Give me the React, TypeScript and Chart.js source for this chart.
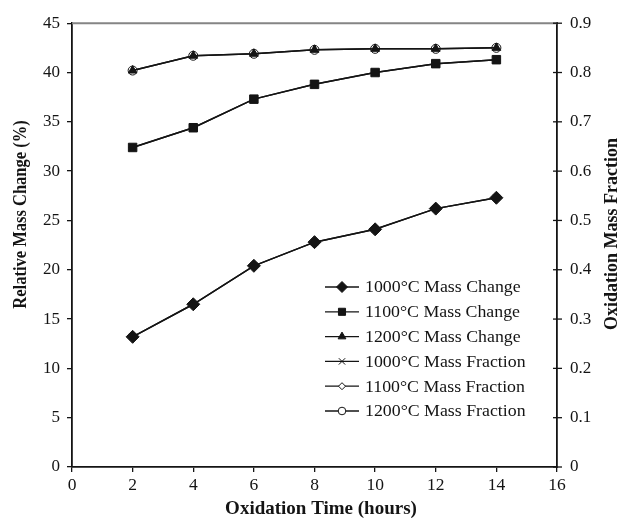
import React, { useEffect, useRef } from "react";
import { Chart, registerables } from "chart.js";
import { drawPoint } from "chart.js/helpers";

Chart.register(...registerables);

const HOURS = [2, 4, 6, 8, 10, 12, 14];
const CHANGE_1000 = [13.2, 16.5, 20.4, 22.8, 24.1, 26.2, 27.3];
const CHANGE_1100 = [32.4, 34.4, 37.3, 38.8, 40.0, 40.9, 41.3];
const CHANGE_1200 = [40.2, 41.7, 41.9, 42.3, 42.4, 42.4, 42.5];
const FRACTION_1000 = [0.264, 0.33, 0.408, 0.456, 0.482, 0.524, 0.546];
const FRACTION_1100 = [0.648, 0.688, 0.746, 0.776, 0.8, 0.818, 0.826];
const FRACTION_1200 = [0.804, 0.834, 0.838, 0.846, 0.848, 0.848, 0.85];
const LABELS = [
  "1000°C Mass Change",
  "1100°C Mass Change",
  "1200°C Mass Change",
  "1000°C Mass Fraction",
  "1100°C Mass Fraction",
  "1200°C Mass Fraction",
];
const RIGHT_TICKS = [0, 0.1, 0.2, 0.3, 0.4, 0.5, 0.6, 0.7, 0.8, 0.9];
const X_TITLE = "Oxidation Time (hours)";
const LEFT_TITLE = "Relative Mass Change (%)";
const RIGHT_TITLE = "Oxidation Mass Fraction";

const INK = "#141414";
const FONT = "'Liberation Serif', 'Times New Roman', serif";

const pts = (ys: number[]) => HOURS.map((x, i) => ({ x, y: ys[i] }));

type Marker = { style: string; r: number; lr: number; fill: string; bw: number };
const MARKERS: Marker[] = [
  { style: "rectRot", r: 6.5, lr: 5.5, fill: INK, bw: 1 },
  { style: "rect", r: 6, lr: 5, fill: INK, bw: 1 },
  { style: "triangle", r: 5, lr: 4.5, fill: INK, bw: 1 },
  { style: "crossRot", r: 4.5, lr: 4.5, fill: INK, bw: 1 },
  { style: "rectRot", r: 3.5, lr: 3.5, fill: "#fff", bw: 1 },
  { style: "circle", r: 4.5, lr: 3.8, fill: "#fff", bw: 1 },
];

const overlayPlugin = {
  id: "overlay",
  afterDraw(chart: any) {
    const ctx = chart.ctx;
    const { chartArea } = chart;
    ctx.save();
    // top border of the plot area
    ctx.strokeStyle = "#858585";
    ctx.lineWidth = 2;
    ctx.beginPath();
    ctx.moveTo(chartArea.left, chartArea.top);
    ctx.lineTo(chartArea.right, chartArea.top);
    ctx.stroke();

    // right axis ticks crossing the axis
    const y1 = chart.scales.y1;
    ctx.strokeStyle = INK;
    ctx.lineWidth = 1.3;
    y1.ticks.forEach((t: any) => {
      const py = y1.getPixelForValue(t.value);
      ctx.beginPath();
      ctx.moveTo(chartArea.right - 4, py);
      ctx.lineTo(chartArea.right + 5, py);
      ctx.stroke();
    });

    // axis titles
    ctx.fillStyle = INK;
    ctx.textAlign = "center";
    ctx.textBaseline = "middle";
    ctx.font = `bold 19px ${FONT}`;
    ctx.fillText(X_TITLE, 321, 509);

    ctx.save();
    ctx.translate(21, 214.5);
    ctx.rotate(-Math.PI / 2);
    ctx.scale(1, 1.12);
    ctx.font = `bold 16.5px ${FONT}`;
    ctx.fillText(LEFT_TITLE, 0, 0);
    ctx.restore();

    ctx.save();
    ctx.translate(612.5, 234);
    ctx.rotate(-Math.PI / 2);
    ctx.font = `bold 18px ${FONT}`;
    ctx.fillText(RIGHT_TITLE, 0, 0);
    ctx.restore();

    // legend
    const x0 = 325;
    const x1 = 359;
    const top = 287;
    const step = 24.8;
    ctx.textAlign = "left";
    ctx.textBaseline = "middle";
    LABELS.forEach((label, i) => {
      const y = top + i * step;
      ctx.strokeStyle = INK;
      ctx.lineWidth = 1.3;
      ctx.beginPath();
      ctx.moveTo(x0, y);
      ctx.lineTo(x1, y);
      ctx.stroke();
      const m = MARKERS[i];
      ctx.fillStyle = m.fill;
      ctx.strokeStyle = INK;
      ctx.lineWidth = m.bw;
      drawPoint(ctx, { pointStyle: m.style as any, rotation: 0, radius: m.lr, borderWidth: m.bw }, (x0 + x1) / 2, y);
      ctx.save();
      ctx.translate(365, y + 1);
      ctx.scale(1.08, 1);
      ctx.fillStyle = INK;
      ctx.font = `16.5px ${FONT}`;
      ctx.fillText(label, 0, 0);
      ctx.restore();
    });
    ctx.restore();
  },
};

export default function App() {
  const ref = useRef<HTMLCanvasElement | null>(null);
  useEffect(() => {
    if (!ref.current) return;
    const series = [CHANGE_1000, CHANGE_1100, CHANGE_1200, FRACTION_1000, FRACTION_1100, FRACTION_1200];
    const chart = new Chart(ref.current, {
      type: "line",
      data: {
        datasets: series.map((s, i) => ({
          label: LABELS[i],
          data: pts(s),
          yAxisID: i < 3 ? "y" : "y1",
          borderColor: INK,
          borderWidth: 1.5,
          pointStyle: MARKERS[i].style as any,
          pointRadius: MARKERS[i].r,
          pointBackgroundColor: MARKERS[i].fill,
          pointBorderColor: INK,
          pointBorderWidth: MARKERS[i].bw,
          tension: 0,
          fill: false,
        })),
      },
      options: {
        animation: false,
        responsive: false,
        maintainAspectRatio: false,
        layout: { padding: { top: 20, left: 0, right: 0, bottom: 0 } },
        plugins: { legend: { display: false }, tooltip: { enabled: false } },
        scales: {
          x: {
            type: "linear",
            min: 0,
            max: 16,
            ticks: { stepSize: 2, color: INK, font: { family: FONT, size: 17.5 }, padding: 3, maxRotation: 0 },
            grid: { drawOnChartArea: false, tickLength: 5, color: INK, lineWidth: 1.3 },
            border: { color: INK, width: 1.8 },
            afterFit: (s: any) => {
              s.height = 54;
            },
          },
          y: {
            position: "left",
            min: 0,
            max: 45,
            ticks: { stepSize: 5, color: INK, font: { family: FONT, size: 17 }, padding: 7 },
            grid: { drawOnChartArea: false, tickLength: 5, color: INK, lineWidth: 1.3 },
            border: { color: INK, width: 1.8 },
            afterFit: (s: any) => {
              s.width = 72;
            },
          },
          y1: {
            position: "right",
            min: 0,
            max: 0.9,
            afterBuildTicks: (s: any) => {
              s.ticks = RIGHT_TICKS.map((v) => ({ value: v }));
            },
            ticks: {
              color: INK,
              font: { family: FONT, size: 17 },
              padding: 13,
              callback: (v: any) => (Number(v) === 0 ? "0" : Number(v).toFixed(1)),
            },
            grid: { drawOnChartArea: false, drawTicks: false },
            border: { color: INK, width: 1.8 },
            afterFit: (s: any) => {
              s.width = 65;
            },
          },
        },
      },
      plugins: [overlayPlugin],
    });
    return () => chart.destroy();
  }, []);
  return (
    <div style={{ position: "fixed", left: 0, top: 0, width: 622, height: 521, background: "#fff" }}>
      <canvas ref={ref} width={622} height={521} style={{ width: 622, height: 521 }} />
    </div>
  );
}
